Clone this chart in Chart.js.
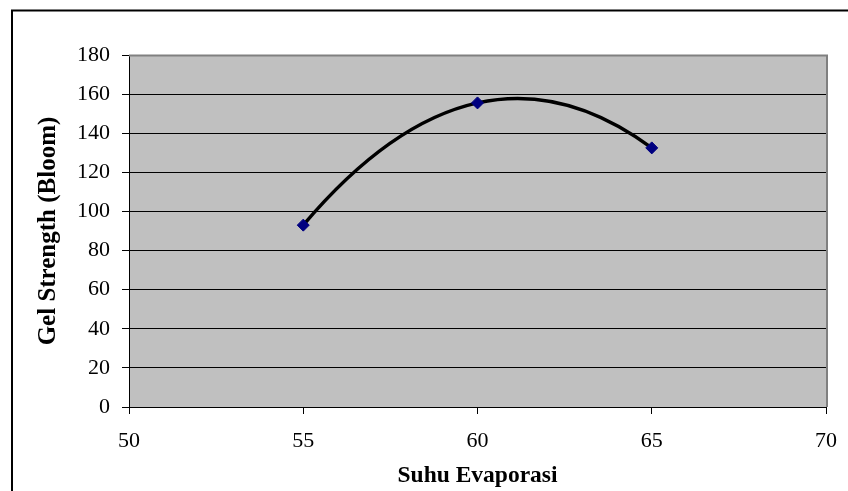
<!DOCTYPE html>
<html><head><meta charset="utf-8">
<script src="https://cdn.jsdelivr.net/npm/chart.js@4.4.0/dist/chart.umd.min.js"></script>
<style>html,body{margin:0;padding:0;background:#fff;} canvas{display:block;}</style>
</head><body>
<canvas id="c" width="848" height="491"></canvas>
<script>
// ---- data ----
const suhu = [55, 60, 65];
const gelStrength = [93, 155.5, 132.5];
const xMin = 50, xMax = 70, xStep = 5;
const yMin = 0, yMax = 180, yStep = 20;
const xTitle = 'Suhu Evaporasi';
const yTitle = 'Gel Strength (Bloom)';

const FONT = '"Liberation Serif", "Times New Roman", serif';

// Excel-like smoothing: Catmull-Rom interior tangents, parabolic end tangents
const excelSmooth = {
  id: 'excelSmooth',
  beforeDatasetDraw(chart, args) {
    const meta = args.meta; const line = meta.dataset; if (!line) return;
    if (typeof line.updateControlPoints === 'function') line.updateControlPoints(chart.chartArea, 'x');
    const p = meta.data; const n = p.length; if (n < 3) return;
    const T = [];
    for (let i = 1; i < n - 1; i++) T[i] = {x: (p[i+1].x - p[i-1].x) / 2, y: (p[i+1].y - p[i-1].y) / 2};
    T[0] = {x: 2 * (p[1].x - p[0].x) - T[1].x, y: 2 * (p[1].y - p[0].y) - T[1].y};
    T[n-1] = {x: 2 * (p[n-1].x - p[n-2].x) - T[n-2].x, y: 2 * (p[n-1].y - p[n-2].y) - T[n-2].y};
    for (let i = 0; i < n; i++) {
      p[i].cp1x = p[i].x - T[i].x / 3; p[i].cp1y = p[i].y - T[i].y / 3;
      p[i].cp2x = p[i].x + T[i].x / 3; p[i].cp2y = p[i].y + T[i].y / 3;
    }
    line._pointsUpdated = true;
    line._path = undefined;
  }
};

const frame = {
  id: 'frame',
  beforeDraw(chart) {
    const {ctx, chartArea: a} = chart;
    ctx.save();
    ctx.fillStyle = '#fff';
    ctx.fillRect(0, 0, chart.width, chart.height);
    ctx.fillStyle = '#C0C0C0';
    ctx.fillRect(a.left, a.top, a.right - a.left, a.bottom - a.top);
    ctx.restore();
  },
  beforeDatasetsDraw(chart) {
    const {ctx, chartArea: a} = chart;
    ctx.save();
    ctx.strokeStyle = '#808080';
    ctx.lineWidth = 2;
    ctx.beginPath();
    ctx.moveTo(a.left, a.top + 0.5);
    ctx.lineTo(a.right + 1, a.top + 0.5);
    ctx.lineTo(a.right + 1, a.bottom);
    ctx.stroke();
    ctx.restore();
  },
  afterDraw(chart) {
    const ctx = chart.ctx;
    ctx.save();
    ctx.strokeStyle = '#000';
    ctx.lineWidth = 2;
    ctx.strokeRect(12, 10.5, 900, 600);
    ctx.restore();
  }
};

new Chart(document.getElementById('c'), {
  type: 'scatter',
  data: {
    datasets: [{
      data: suhu.map((x, i) => ({x, y: gelStrength[i]})),
      showLine: true,
      tension: 0.4,
      borderColor: '#000',
      borderWidth: 3.5,
      pointStyle: 'rectRot',
      pointRadius: 6,
      pointBackgroundColor: '#000080',
      pointBorderColor: '#000080',
      pointBorderWidth: 1
    }]
  },
  options: {
    responsive: false,
    animation: false,
    devicePixelRatio: 1,
    layout: {padding: {left: 0, right: 22, top: 55, bottom: 0}},
    plugins: {legend: {display: false}, tooltip: {enabled: false}},
    scales: {
      x: {
        type: 'linear', min: xMin, max: xMax,
        afterFit: s => { s.height = 84; s.paddingLeft = 0; s.paddingRight = 0; },
        ticks: {stepSize: xStep, color: '#000', padding: 14, font: {family: FONT, size: 22}},
        grid: {drawOnChartArea: false, color: '#000', tickLength: 7, tickColor: '#000'},
        border: {color: '#000', width: 1},
        title: {display: true, text: xTitle, color: '#000', padding: {top: 0, bottom: 1},
          font: {family: FONT, size: 23.5, weight: 'bold'}}
      },
      y: {
        type: 'linear', min: yMin, max: yMax,
        afterFit: s => { s.width = 129; s.paddingTop = 0; s.paddingBottom = 0; },
        ticks: {stepSize: yStep, color: '#000', padding: 12, font: {family: FONT, size: 22}},
        grid: {color: c => (c.tick && c.tick.value === yMax) ? '#808080' : '#000', tickLength: 7, tickColor: '#000'},
        border: {color: '#000', width: 1},
        title: {display: true, text: yTitle, color: '#000', padding: {top: 34, bottom: 0},
          font: {family: FONT, size: 25, weight: 'bold'}}
      }
    }
  },
  plugins: [excelSmooth, frame]
});
</script>
</body></html>
